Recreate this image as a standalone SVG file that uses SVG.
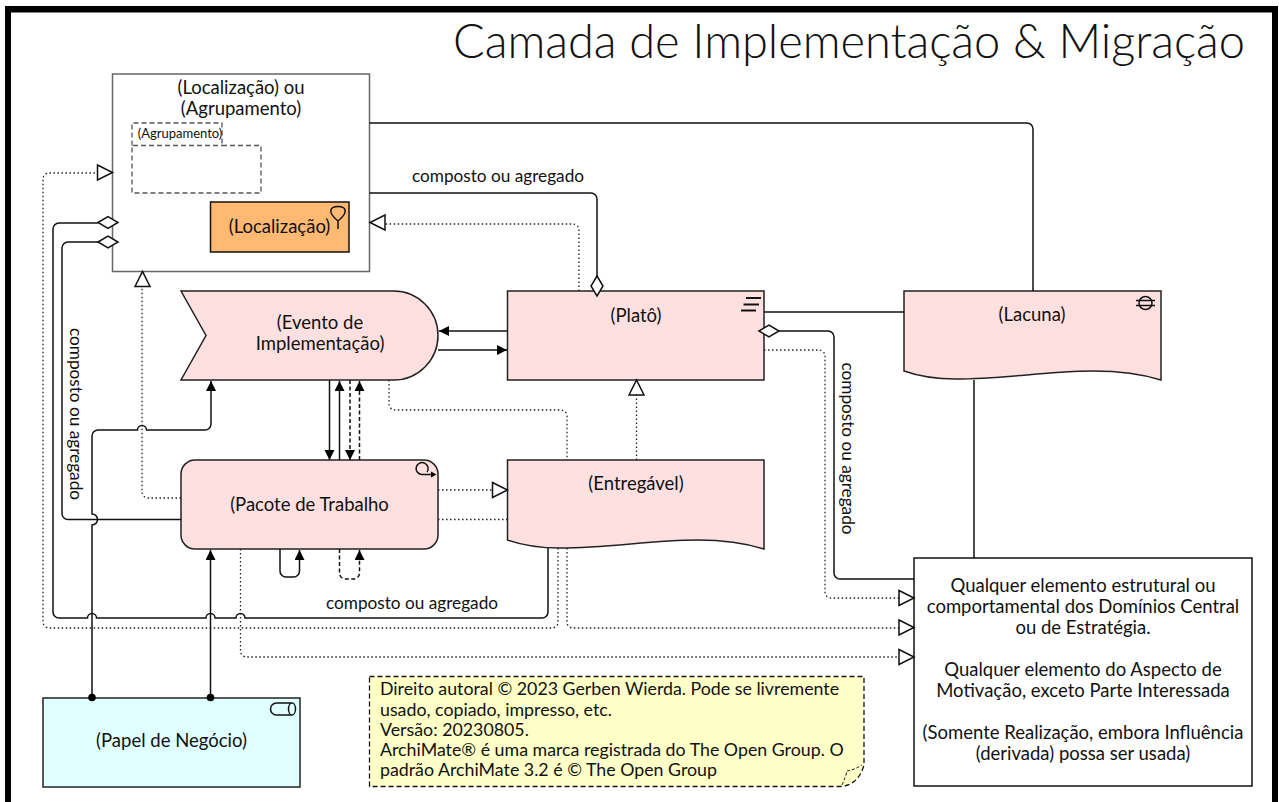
<svg xmlns="http://www.w3.org/2000/svg" width="1279" height="802" viewBox="0 0 1279 802">
<style>
text{font-family:"Lato","Open Sans","Liberation Sans",sans-serif;fill:#111;font-size:18.500px;text-anchor:middle}
.n{stroke:#222;stroke-width:1.5;fill:#ffe0e0}
.c{fill:none;stroke:#111;stroke-width:1.5}
.dt{fill:none;stroke:#222;stroke-width:1.3;stroke-dasharray:1.5 2.5}
.ds{fill:none;stroke:#111;stroke-width:1.5;stroke-dasharray:4 2.5}
.i{fill:none;stroke:#111;stroke-width:1.5}
.l{font-size:17.200px}
.t{font-size:17.800px;text-anchor:start}
</style>
<defs>
<marker id="a" markerUnits="userSpaceOnUse" markerWidth="11" markerHeight="11" refX="10" refY="5" orient="auto"><path d="M0 0L10 5L0 10z" fill="#000"/></marker>
<path id="tri" d="M-15 -7.500L0 0L-15 7.500z" fill="#fff" stroke="#111" stroke-width="1.500"/>
<path id="dia" d="M0 0L10 -6L20 0L10 6z" fill="#fff" stroke="#111" stroke-width="1.500"/>
</defs>
<rect width="1279" height="802" fill="#fff"/>
<path d="M5 802V6H1278V802H1272V12.500H11V802z" fill="#000"/>
<text x="849" y="58" style="font-size:47px;font-weight:300" textLength="792">Camada de Implementação &amp; Migração</text>
<g id="location-group">
<rect x="112.500" y="74" width="257" height="197.500" fill="#fff" stroke="#666" stroke-width="1.500"/>
<text x="241" y="94">(Localização) ou</text><text x="241" y="115">(Agrupamento)</text>
<path d="M132 145.500V123H222V145.500M222 145.500H261V193H132V145.500H222" fill="#fff" stroke="#555" stroke-width="1.300" stroke-dasharray="5 3"/>
<text x="180" y="137.500" style="font-size:13px">(Agrupamento)</text>
<rect x="210.500" y="202" width="138.500" height="50" fill="#ffb973" stroke="#111" stroke-width="1.500"/>
<text x="279.500" y="232.500">(Localização)</text>
<path class="i" d="M338 229V221C327 212 330 206.500 338 206.500C346 206.500 349 212 338 221"/>
</g>
<g id="event"><path class="n" d="M181 291H393.500a44.500 44.500 0 0 1 0 89H181L206 335.500z"/><text x="320" y="328.500">(Evento de</text><text x="320" y="349.500">Implementação)</text></g>
<g id="plateau"><rect class="n" x="507.500" y="291" width="256.500" height="89"/><text x="636" y="321.500">(Platô)</text>
<path class="i" style="stroke-width:2" d="M746 298H761M743.500 304.500H759M741 310.500H756"/></g>
<g id="workpackage"><rect class="n" x="181" y="460" width="257" height="89" rx="14"/><text x="309.500" y="511">(Pacote de Trabalho</text>
<path class="i" d="M431 474.500H421.700A6 6 0 1 1 427 472"/><path d="M431 471.500L436.500 474.500L431 477.500z" fill="#000"/></g>
<g id="deliverable"><path class="n" d="M507.500 460H764V549C745 543 725 540 697 540C650 540 610 548 560 548C540 548 525 546 507.500 540z"/><text x="636" y="490">(Entregável)</text></g>
<g id="gap"><path class="n" d="M904 291H1161V380C1142 374 1122 371 1093 371C1046 371 1006 379 956 379C936 379 921 377 904 371z"/><text x="1032" y="321">(Lacuna)</text>
<circle class="i" cx="1145.500" cy="303" r="6.500"/><path class="i" d="M1136 300.500H1155M1136 305.500H1155"/></g>
<g id="role"><rect x="43" y="698" width="257" height="89" fill="#e0ffff" stroke="#222" stroke-width="1.500"/><text x="171.500" y="747">(Papel de Negócio)</text>
<path class="i" d="M292 703H276.500a6 6 0 0 0 0 12H292M292 703a3.500 6 0 0 1 0 12a3.500 6 0 0 1 0-12"/></g>
<g id="element"><rect x="914" y="558" width="338" height="228" fill="#fff" stroke="#111" stroke-width="1.500"/>
<text x="1083" y="592">Qualquer elemento estrutural ou</text>
<text x="1083" y="612.500">comportamental dos Domínios Central</text>
<text x="1083" y="633.500">ou de Estratégia.</text>
<text x="1083" y="676">Qualquer elemento do Aspecto de</text>
<text x="1083" y="697">Motivação, exceto Parte Interessada</text>
<text x="1083" y="739">(Somente Realização, embora Influência</text>
<text x="1083" y="760">(derivada) possa ser usada)</text></g>
<g id="note"><path d="M369.500 676.500H864V765Q858 786.500 838 786.500H369.500z" fill="#ffffc8" stroke="#111" stroke-width="1.300" stroke-dasharray="5 3"/>
<path d="M842 785Q846 776 847 771Q854 770 862 765" fill="none" stroke="#111" stroke-width="1" stroke-dasharray="3 2"/>
<text class="t" x="380" y="695">Direito autoral © 2023 Gerben Wierda. Pode se livremente</text>
<text class="t" x="380" y="716">usado, copiado, impresso, etc.</text>
<text class="t" x="380" y="736">Versão: 20230805.</text>
<text class="t" x="380" y="756">ArchiMate® é uma marca registrada do The Open Group. O</text>
<text class="t" x="380" y="776">padrão ArchiMate 3.2 é © The Open Group</text></g>
<g id="connectors">
<path class="c" d="M369.500 123H1027a6 6 0 0 1 6 6V291"/>
<path class="c" d="M369.500 193H591a6 6 0 0 1 6 6V276"/>
<path class="dt" d="M579 291V230a6 6 0 0 0-6-6H385"/>
<path class="c" d="M548 548V612a6 6 0 0 1-6 6H245a4.500 4.500 0 0 0-9 0H215a4.500 4.500 0 0 0-9 0H96.500a4.500 4.500 0 0 0-9 0H59a6 6 0 0 1-6-6V229a6 6 0 0 1 6-6H98"/>
<path class="c" d="M181 519.500H68a6 6 0 0 1-6-6V248a6 6 0 0 1 6-6H98"/>
<path class="c" d="M92 698V525a5.500 5.500 0 0 0 0-11V436a6 6 0 0 1 6-6H137.500a4.500 4.500 0 0 1 9 0H205a6 6 0 0 0 6-6V381" marker-end="url(#a)"/>
<path class="c" d="M210.500 698V550" marker-end="url(#a)"/>
<circle cx="92" cy="697.500" r="3.800" fill="#000"/><circle cx="210.500" cy="697.500" r="3.800" fill="#000"/>
<path class="dt" d="M181 498H148a6 6 0 0 1-6-6V286"/>
<path class="dt" d="M240.500 549V651a6 6 0 0 0 6 6H899"/>
<path class="dt" d="M438 519.500H507.500"/>
<path class="dt" d="M558 548V622a6 6 0 0 1-6 6H49a6 6 0 0 1-6-6V179a6 6 0 0 1 6-6H98"/>
<path class="dt" d="M389 380V404a6 6 0 0 0 6 6H561a6 6 0 0 1 6 6V460"/>
<path class="dt" d="M567 548V622a6 6 0 0 0 6 6H899"/>
<path class="dt" d="M438 490H492"/>
<path class="dt" d="M636.500 460V395"/>
<path class="c" d="M329.500 380V460" marker-end="url(#a)"/>
<path class="c" d="M339.500 460V381" marker-end="url(#a)"/>
<path class="ds" d="M350 380V460" marker-end="url(#a)"/>
<path class="ds" d="M359.500 460V381" marker-end="url(#a)"/>
<path class="c" d="M280 549V571a6 6 0 0 0 6 6H293.500a6 6 0 0 0 6-6V550" marker-end="url(#a)"/>
<path class="ds" d="M339.500 549V573a6 6 0 0 0 6 6H353.500a6 6 0 0 0 6-6V550" marker-end="url(#a)"/>
<path class="c" d="M507 331H439" marker-end="url(#a)"/>
<path class="c" d="M438 350H507" marker-end="url(#a)"/>
<path class="c" d="M764 312H904"/>
<path class="c" d="M779 331H828a6 6 0 0 1 6 6V573a6 6 0 0 0 6 6H914"/>
<path class="dt" d="M764 350H819a6 6 0 0 1 6 6V592a6 6 0 0 0 6 6H899"/>
<path class="c" d="M974 380V558"/>
<use href="#tri" x="914" y="598"/><use href="#tri" x="914" y="627.500"/><use href="#tri" x="914" y="657"/>
<use href="#tri" x="507.500" y="490"/>
<use href="#tri" x="112.500" y="172.500"/>
<use href="#tri" transform="translate(370 222.500) rotate(180)"/>
<use href="#tri" transform="translate(142.500 271.500) rotate(-90)"/>
<use href="#tri" transform="translate(636.500 380) rotate(-90)"/>
<use href="#dia" x="98" y="222.500"/><use href="#dia" x="98" y="242"/>
<use href="#dia" x="759" y="331"/>
<use href="#dia" transform="translate(597 276) rotate(90)"/>
</g>
<g id="labels">
<text class="l" x="498" y="182">composto ou agregado</text>
<text class="l" x="412" y="609">composto ou agregado</text>
<text class="l" transform="translate(70 414) rotate(90)">composto ou agregado</text>
<text class="l" transform="translate(842 448.500) rotate(90)">composto ou agregado</text>
</g>
</svg>
